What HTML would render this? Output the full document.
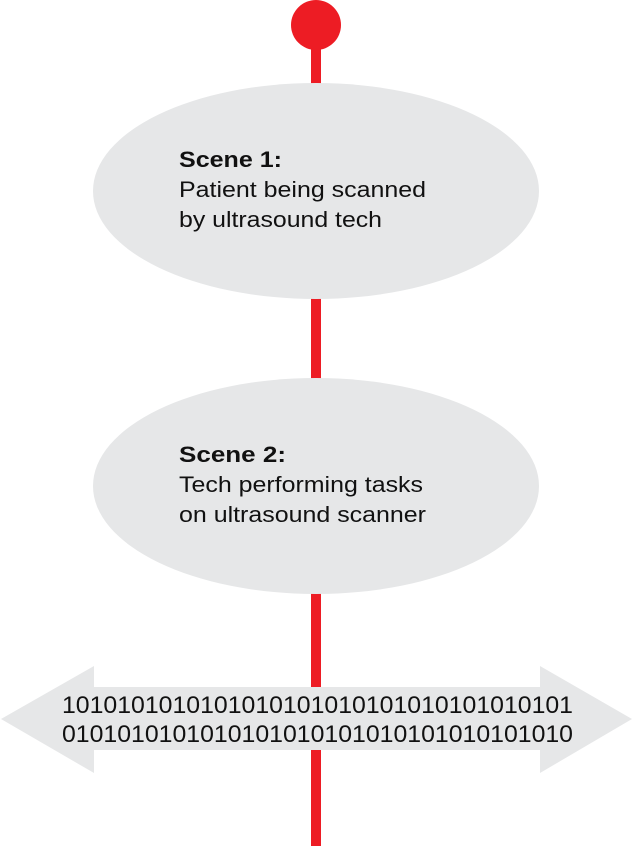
<!DOCTYPE html>
<html><head><style>
html,body{margin:0;padding:0;background:#fff;}
svg{display:block;}
text{font-family:"Liberation Sans",Arial,sans-serif;fill:#111;}
</style></head><body>
<svg width="633" height="846" viewBox="0 0 633 846" xmlns="http://www.w3.org/2000/svg">
<rect x="311" y="25" width="10" height="821" fill="#ed1c24"/>
<circle cx="316" cy="25" r="25" fill="#ed1c24"/>
<ellipse cx="316" cy="191" rx="223" ry="108" fill="#e6e7e8"/>
<ellipse cx="316" cy="486" rx="223" ry="108" fill="#e6e7e8"/>
<polygon points="1,719 94,666 94,687 540,687 540,666 632,719 540,773 540,750 94,750 94,773" fill="#e6e7e8"/>
<text x="179" y="167" font-size="22.5" font-weight="bold" textLength="103" lengthAdjust="spacingAndGlyphs">Scene 1:</text>
<text x="179" y="197" font-size="22.5" textLength="247" lengthAdjust="spacingAndGlyphs">Patient being scanned</text>
<text x="179" y="227" font-size="22.5" textLength="203" lengthAdjust="spacingAndGlyphs">by ultrasound tech</text>
<text x="179" y="462" font-size="22.5" font-weight="bold" textLength="107" lengthAdjust="spacingAndGlyphs">Scene 2:</text>
<text x="179" y="492" font-size="22.5" textLength="244" lengthAdjust="spacingAndGlyphs">Tech performing tasks</text>
<text x="179" y="522" font-size="22.5" textLength="247" lengthAdjust="spacingAndGlyphs">on ultrasound scanner</text>
<text x="62" y="713" font-size="24.5" textLength="511" lengthAdjust="spacingAndGlyphs">1010101010101010101010101010101010101</text>
<text x="62" y="742" font-size="24.5" textLength="511" lengthAdjust="spacingAndGlyphs">0101010101010101010101010101010101010</text>
</svg>
</body></html>
